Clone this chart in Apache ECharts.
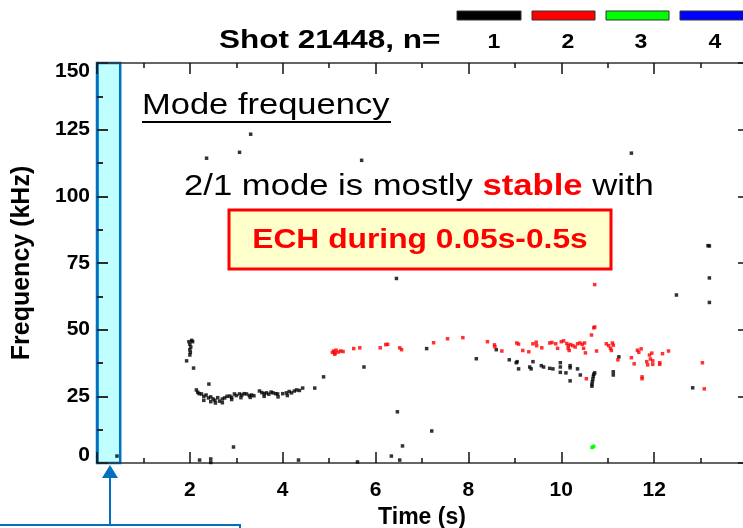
<!DOCTYPE html>
<html>
<head>
<meta charset="utf-8">
<script src="https://cdn.jsdelivr.net/npm/echarts@6/dist/echarts.min.js"></script>
<style>
html,body{margin:0;padding:0;background:#fff;}
#chart{width:743px;height:528px;}
</style>
</head>
<body>
<div id="chart"></div>
<script>
// ---- data (time s, frequency kHz) ----
const seriesNames = ['1', '2', '3', '4'];
const seriesColors = ['#000000', '#FF0000', '#00FF00', '#0000FF'];
const xTickValues = [2, 4, 6, 8, 10, 12];
const yTickValues = [0, 25, 50, 75, 100, 125, 150];

const n1Points = [
  [1.98,45.5],[2.0,44.5],[2.02,43.5],[2.0,42.5],[2.01,41.5],[2.0,40.5],[2.04,46],[2.06,45.5],
  [1.93,38.3],[2.08,35.6],[2.41,29.6],
  [2.14,27.4],[2.17,26.5],[2.2,26],[2.25,25.9],[2.3,25],[2.35,25.5],[2.4,24.4],[2.45,24.8],
  [2.5,24],[2.54,23.5],[2.6,24.5],[2.64,23.2],[2.7,24],[2.75,24.4],[2.8,25],[2.86,25.1],
  [2.9,24.6],[2.96,25.9],[3.0,25.3],[3.07,25.9],[3.12,25.5],[3.17,26],[3.22,25.9],[3.28,25.3],
  [3.33,25.5],[3.38,25.2],[3.5,27],[3.55,26.4],[3.6,26],[3.65,26.3],[3.7,25.8],[3.75,26.6],
  [3.79,26.3],[3.85,26],[3.89,25.9],[4.0,26],[4.08,26.3],[4.14,26.8],[4.19,26.3],[4.25,27],
  [4.3,27.4],[4.36,27.2],[4.43,28.1],[4.69,28.1],[4.88,32.3],
  [2.3,23.5],[2.45,23],[2.55,22.5],[2.7,22.6],[2.9,23.8],[3.1,24.5],[3.3,24.6],[3.6,25],[3.9,24.8],[4.1,25.3],
  [5.75,36],[6.47,19.2],[7.1,42.9],[8.17,39.1],[8.6,42.5],[8.88,38.7],[9.03,37.6],[9.08,35.3],
  [9.05,38],[9.32,36],[9.39,38],[9.35,35.3],[9.57,36.5],[9.62,36],[9.75,35.5],[9.82,35.3],
  [9.98,37.6],[9.98,36],[9.98,34],[10.1,33.8],[10.19,36.5],[10.19,35.7],[10.19,30.8],[10.35,35.3],
  [10.41,33],[10.66,29.5],[10.67,30.5],[10.68,31.5],[10.69,32.5],[10.7,33.3],[10.72,33.8],[10.66,28.8],
  [11.12,34.2],[11.12,33],[11.24,39.8],[12.83,28.2],[13.19,60.2],[13.19,69.4],[13.19,81.4],[13.16,81.5],
  [12.48,63],[11.51,116.2],[3.31,123.3],[3.07,116.5],[2.36,114.3],[5.7,113.5],[6.45,69.2],
  [7.21,12],[6.58,6.4],[6.34,2.6],[6.52,1.1],[5.61,0.4],[4.34,1.1],[2.21,1.1],[2.45,1.5],[2.45,0.2],
  [2.94,6],[0.43,2.6]
];
const n2Points = [
  [5.07,41.5],[5.1,42],[5.13,41.2],[5.15,42.3],[5.2,41.6],[5.25,42],[5.3,41.8],[5.12,40.8],
  [5.53,42.9],[5.66,43.2],[6.1,43.2],[6.22,44.4],[6.26,44.5],[6.52,43.2],[6.56,42.5],[7.25,45.1],
  [7.55,46.6],[7.88,47],[8.41,45.5],[8.56,44.3],[8.57,43.6],[8.72,42],[9.04,45],[9.08,44.6],
  [9.17,42.2],[9.3,41.7],[9.39,44.7],[9.46,45.3],[9.47,44],[9.58,43.2],[9.75,45],[9.8,45.2],
  [9.88,44.7],[9.92,43],[10.0,45.5],[10.05,45.8],[10.12,44.8],[10.15,44],[10.15,43],[10.17,42.2],
  [10.2,44.4],[10.25,44],[10.3,43.5],[10.35,44.7],[10.4,45],[10.45,44.5],[10.48,43],[10.5,45],
  [10.52,41.3],[10.65,48],[10.7,50.7],[10.72,51],[10.76,42],[10.97,44.7],[11.02,44],[11.06,43],
  [11.08,42.2],[11.1,45],[11.12,44.2],[11.22,38.7],[10.54,31.6],[10.72,66.9],
  [11.51,39.5],[11.57,37.2],[11.64,42.3],[11.67,41.5],[11.72,42.8],[11.74,32.3],[11.74,31.6],
  [11.84,38],[11.86,36.8],[11.9,40.5],[11.92,39],[11.95,41.2],[11.97,38.3],[11.97,37],
  [12.12,37],[12.12,37.6],[12.18,41],[12.31,42],[13.04,37.6],[13.08,27.8]
];
const n3Points = [[10.66,5.8],[10.68,6],[10.7,6.3]];
const n4Points = [];
const echWindow = [0, 0.5];

const chart = echarts.init(document.getElementById('chart'), null, {renderer: 'canvas'});
const FONT = '"Liberation Sans", Arial, sans-serif';
const BLUE = '#0070C0';

function scatter(name, data, color) {
  return {
    name: name, type: 'scatter', data: data, symbol: 'rect', symbolSize: 3.5,
    itemStyle: {color: color}, z: 4, silent: true
  };
}

const yLabelStyle = {fontSize: 21, fontWeight: 'bold', fontFamily: FONT, color: '#000'};

const option = {
  backgroundColor: '#ffffff',
  animation: false,
  grid: {left: 97, top: 63, width: 650, height: 400, show: false, containLabel: false, outerBoundsMode: 'none'},
  xAxis: [{
    type: 'value', min: 0, max: 14, interval: 2, position: 'bottom',
    axisLine: {show: true, onZero: false, lineStyle: {color: '#333', width: 1.5}},
    axisTick: {show: true, inside: true, length: 11, lineStyle: {color: '#111', width: 1.5}},
    minorTick: {show: true, splitNumber: 2, length: 5, lineStyle: {color: '#111', width: 1.5}},
    splitLine: {show: false},
    axisLabel: {show: true, margin: 17, fontSize: 21, fontWeight: 'bold', fontFamily: FONT, color: '#000',
      showMinLabel: false, showMaxLabel: false,
      formatter: v => (xTickValues.indexOf(v) >= 0 ? String(v) : '')},
    name: 'Time (s)', nameLocation: 'middle', nameGap: 42,
    nameTextStyle: {fontSize: 23, fontWeight: 'bold', fontFamily: FONT, color: '#000'}
  }, {
    type: 'value', min: 0, max: 14, interval: 2, position: 'top',
    axisLine: {show: true, onZero: false, lineStyle: {color: '#333', width: 1.5}},
    axisTick: {show: true, inside: true, length: 11, lineStyle: {color: '#111', width: 1.5}},
    minorTick: {show: true, splitNumber: 2, length: 5, lineStyle: {color: '#111', width: 1.5}},
    splitLine: {show: false}, axisLabel: {show: false}
  }],
  yAxis: [{
    type: 'value', min: 0, max: 150, interval: 25, position: 'left',
    axisLine: {show: true, onZero: false, lineStyle: {color: BLUE, width: 2.5}},
    axisTick: {show: true, inside: true, length: 11, lineStyle: {color: '#222', width: 1.5}},
    minorTick: {show: true, splitNumber: 2, length: 6, lineStyle: {color: '#222', width: 1.5}},
    splitLine: {show: false},
    axisLabel: {show: true, margin: 7, ...yLabelStyle,
      formatter: v => {
        if (yTickValues.indexOf(v) < 0) return '';
        if (v === yTickValues[0]) return '{lo|' + v + '}';
        if (v === yTickValues[yTickValues.length - 1]) return '{hi|' + v + '}';
        return String(v);
      },
      rich: {
        lo: {...yLabelStyle, padding: [0, 0, 16, 0]},
        hi: {...yLabelStyle, padding: [16, 0, 0, 0]}
      }},
    name: 'Frequency (kHz)', nameLocation: 'middle', nameGap: 62, nameRotate: 90,
    nameTextStyle: {fontSize: 25, fontWeight: 'bold', fontFamily: FONT, color: '#000'}
  }, {
    type: 'value', min: 0, max: 150, interval: 25, position: 'right',
    axisLine: {show: true, onZero: false, lineStyle: {color: '#333', width: 1.5}},
    axisTick: {show: true, inside: true, length: 9, lineStyle: {color: '#111', width: 1.5}},
    minorTick: {show: true, splitNumber: 2, length: 4, lineStyle: {color: '#111', width: 1.5}},
    splitLine: {show: false}, axisLabel: {show: false}
  }, {
    // tick marks of the left frame edge (placed at time 0), pointing into the plot
    type: 'value', min: 0, max: 150, interval: 25, position: 'right',
    axisLine: {show: false, onZero: true},
    axisTick: {show: true, inside: false, length: 11, lineStyle: {color: '#222', width: 1.5}},
    minorTick: {show: true, splitNumber: 2, length: 6, lineStyle: {color: '#222', width: 1.5}},
    splitLine: {show: false}, axisLabel: {show: false}
  }],
  series: [
    {
      name: 'ECH', type: 'scatter', data: [], z: 0, silent: true,
      markArea: {
        silent: true, z: 0,
        itemStyle: {color: 'rgba(0,255,255,0.25)', borderColor: BLUE, borderWidth: 2.5},
        data: [[{xAxis: echWindow[0]}, {xAxis: echWindow[1]}]]
      }
    },
    scatter(seriesNames[0], n1Points, seriesColors[0]),
    scatter(seriesNames[1], n2Points, seriesColors[1]),
    scatter(seriesNames[2], n3Points, seriesColors[2]),
    scatter(seriesNames[3], n4Points, seriesColors[3])
  ],
  graphic: [
    // title
    {type: 'text', x: 219, y: 41, scaleX: 1.26, z: 20,
      style: {text: 'Shot 21448, n=', font: 'bold 25px ' + FONT, fill: '#000',
        textAlign: 'left', textVerticalAlign: 'middle', align: 'left', verticalAlign: 'middle'}},
    // legend bars
    {type: 'rect', shape: {x: 457, y: 11, width: 64, height: 9}, style: {fill: seriesColors[0], stroke: '#333', lineWidth: 1}, z: 20},
    {type: 'rect', shape: {x: 532, y: 11, width: 63, height: 9}, style: {fill: seriesColors[1], stroke: '#333', lineWidth: 1}, z: 20},
    {type: 'rect', shape: {x: 606, y: 11, width: 63, height: 9}, style: {fill: seriesColors[2], stroke: '#333', lineWidth: 1}, z: 20},
    {type: 'rect', shape: {x: 680, y: 11, width: 70, height: 9}, style: {fill: seriesColors[3], stroke: '#333', lineWidth: 1}, z: 20},
    {type: 'text', x: 494, y: 42, scaleX: 1.15, z: 20, style: {text: seriesNames[0], font: 'bold 20px ' + FONT, fill: '#000', textAlign: 'center', textVerticalAlign: 'middle', align: 'center', verticalAlign: 'middle'}},
    {type: 'text', x: 568, y: 42, scaleX: 1.15, z: 20, style: {text: seriesNames[1], font: 'bold 20px ' + FONT, fill: '#000', textAlign: 'center', textVerticalAlign: 'middle', align: 'center', verticalAlign: 'middle'}},
    {type: 'text', x: 641, y: 42, scaleX: 1.15, z: 20, style: {text: seriesNames[2], font: 'bold 20px ' + FONT, fill: '#000', textAlign: 'center', textVerticalAlign: 'middle', align: 'center', verticalAlign: 'middle'}},
    {type: 'text', x: 715, y: 42, scaleX: 1.15, z: 20, style: {text: seriesNames[3], font: 'bold 20px ' + FONT, fill: '#000', textAlign: 'center', textVerticalAlign: 'middle', align: 'center', verticalAlign: 'middle'}},
    // Mode frequency (underlined)
    {type: 'text', x: 142, y: 106, scaleX: 1.15, z: 20,
      style: {text: 'Mode frequency', font: '30px ' + FONT, fill: '#000',
        textAlign: 'left', textVerticalAlign: 'middle', align: 'left', verticalAlign: 'middle'}},
    {type: 'line', shape: {x1: 142, y1: 122, x2: 391, y2: 122}, style: {stroke: '#000', lineWidth: 2}, z: 20},
    // annotation
    {type: 'text', x: 184, y: 187, scaleX: 1.155, z: 20,
      style: {
        text: '{a|2/1 mode is mostly }{b|stable}{a| with}',
        textAlign: 'left', textVerticalAlign: 'middle', align: 'left', verticalAlign: 'middle',
        rich: {
          a: {font: '30px ' + FONT, fill: '#000', color: '#000'},
          b: {font: 'bold 30px ' + FONT, fill: '#FF0000', color: '#FF0000'}
        }
      }},
    {type: 'rect', shape: {x: 229, y: 210, width: 382, height: 59}, style: {fill: '#FFFFCC', stroke: '#FF0000', lineWidth: 3}, z: 20},
    {type: 'text', x: 420, y: 240, scaleX: 1.135, z: 21,
      style: {text: 'ECH during 0.05s-0.5s', font: 'bold 28px ' + FONT, fill: '#FF0000',
        textAlign: 'center', textVerticalAlign: 'middle', align: 'center', verticalAlign: 'middle'}},
    // arrow + lower box
    {type: 'line', shape: {x1: 110, y1: 476, x2: 110, y2: 526}, style: {stroke: BLUE, lineWidth: 2}, z: 20},
    {type: 'polygon', shape: {points: [[110, 465], [102, 478], [118, 478]]}, style: {fill: BLUE}, z: 20},
    {type: 'rect', shape: {x: -5, y: 525, width: 245, height: 20}, style: {fill: '#fff', stroke: BLUE, lineWidth: 2}, z: 20}
  ]
};
chart.setOption(option);
</script>
</body>
</html>
